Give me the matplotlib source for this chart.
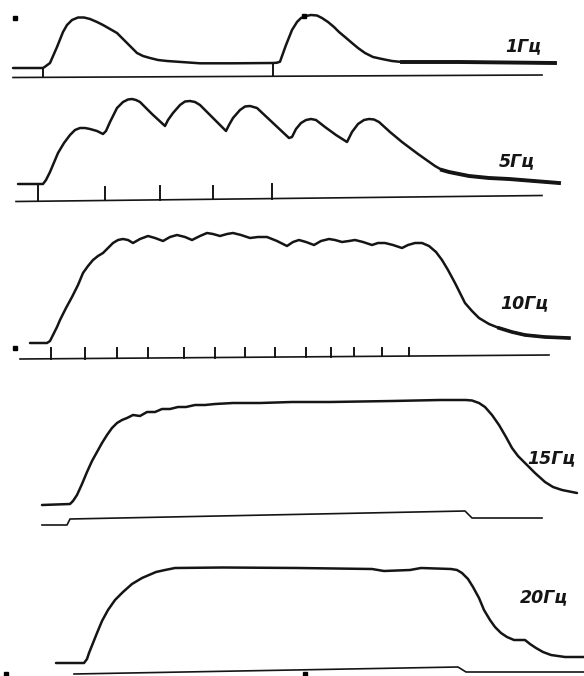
import matplotlib.pyplot as plt

# traces, in picture pixel units (x right, y down)
# 1 Hz
hz1_x = [13, 43, 45, 50, 57, 63, 67, 72, 78, 84, 90, 97, 103, 110, 117, 122, 127, 132, 137, 143,
         150, 158, 167, 200, 233, 273, 277, 280, 286, 292, 297, 301, 306, 311, 317, 322, 328, 334,
         339, 345, 352, 358, 365, 373, 382, 392, 402, 459, 555]
hz1_y = [68, 68, 66.7, 63, 47, 32, 25, 20, 17.5, 17.5, 19, 22, 25, 29, 33, 38, 43, 48, 53, 56,
         58, 60, 61, 63.3, 63.3, 63, 62.7, 61.7, 45, 30, 22, 18, 16, 15, 15.5, 18, 22, 27,
         32, 37, 43, 48, 53, 57, 59, 61, 62, 62, 63]
hz1_tail = 46
hz1_stim_x = [13, 542]
hz1_stim_y = [77.5, 75]
hz1_ticks = [43, 273]
hz1_tick_top = [68, 63]

# 5 Hz
hz5_x = [18, 43, 46, 50, 58, 64, 70, 75, 80, 85, 90, 97, 103, 106, 110, 117, 123, 128, 132, 136,
         140, 152, 165, 168, 173, 180, 185, 190, 195, 200, 213, 226, 229, 233, 240, 245, 250, 257,
         273, 289, 292, 296, 301, 306, 311, 316, 325, 336, 347, 349, 352, 358, 364, 369, 374, 379,
         390, 402, 418, 435, 442, 449, 459, 469, 489, 509, 559]
hz5_y = [184, 184, 180, 172, 153, 143, 135, 130, 128, 128, 129, 131, 134, 131, 122, 108, 102, 99.5, 99, 100,
         102, 114, 126, 120, 113, 105, 101.5, 101, 102, 105, 118, 131, 125, 118, 110, 106.5, 106, 108,
         123, 138, 137, 129, 123, 120, 119, 120, 127, 135, 142, 138, 132, 124, 120, 119, 119.5, 122,
         132, 142, 154, 166, 170, 172, 174, 176, 178, 179, 183]
hz5_tail = 60

hz5_stim_x = [16, 542]
hz5_stim_y = [201.5, 195.5]
hz5_ticks = [38, 105, 160, 213, 272]
hz5_tick_top = [184, 187, 186, 186, 184]

# 10 Hz
hz10_x = [30, 47, 50, 53, 57, 60, 66, 72, 78, 83, 88, 93, 98, 103, 108, 113, 118, 123, 128, 133,
          140, 148, 155, 163, 170, 177, 185, 192, 200, 207, 213, 220, 227, 233, 241, 250, 258, 267,
          277, 287, 293, 299, 306, 314, 321, 329, 335, 342, 349, 355, 363, 372, 378, 385, 393, 402,
          408, 415, 422, 429, 436, 442, 448, 455, 460, 465, 472, 479, 489, 499, 512, 525, 545, 569]
hz10_y = [343, 343, 341, 335, 327, 320, 308, 297, 285, 273, 266, 260, 256, 253, 248, 243, 240, 239, 240, 243,
          239, 236, 238, 241, 237, 235, 237, 240, 236, 233, 234, 236, 234, 233, 235, 238, 237, 237,
          241, 246, 242, 240, 242, 245, 241, 239, 240, 242, 241, 240, 242, 245, 243, 243, 245, 248,
          245, 243, 243, 246, 252, 260, 270, 283, 293, 303, 311, 318, 324, 328, 332, 335, 337, 338]
hz10_tail = 69
hz10_stim_x = [20, 549]
hz10_stim_y = [359, 355]
hz10_ticks = [51, 85, 117, 148, 184, 215, 245, 275, 306, 331, 354, 382, 409]
hz10_tick_top = [348] * 13

# 15 Hz
hz15_x = [42, 70, 73, 77, 82, 87, 92, 97, 102, 107, 112, 117, 122, 127, 133, 140, 147, 155, 162,
          170, 178, 186, 195, 205, 215, 233, 260, 292, 330, 392, 440, 466, 472, 479, 485, 492, 499,
          506, 512, 518, 525, 535, 545, 553, 562, 577]
hz15_y = [505, 504, 501, 495, 484, 472, 461, 452, 443, 435, 428, 423, 420, 418, 415, 416, 412, 412, 409,
          409, 407, 407, 405, 405, 404, 403, 403, 402, 402, 401, 400, 400, 400.5, 403, 407, 415, 425,
          437, 448, 456, 463, 473, 482, 487, 490, 493]
hz15_stim_x = [42, 67, 70, 465, 472, 542]
hz15_stim_y = [525, 525, 519, 511, 518, 518]

# 20 Hz
hz20_x = [56, 84, 87, 89, 93, 97, 102, 108, 115, 123, 132, 142, 149, 156, 165, 175, 223, 298, 372,
          384, 410, 421, 451, 457, 462, 468, 473, 479, 484, 490, 495, 501, 507, 514, 520, 525, 530,
          536, 543, 551, 565, 584]
hz20_y = [663, 663, 659, 653, 643, 633, 621, 610, 600, 592, 584, 578, 575, 572, 570, 568, 567.5, 568, 569,
          571, 570, 568, 569, 570, 573, 579, 587, 598, 610, 620, 627, 633, 637, 640, 640, 640, 644,
          648, 652, 655, 657, 657]
hz20_stim_x = [74, 458, 466, 584]
hz20_stim_y = [674, 667, 672, 672]

labels = ['1Гц', '5Гц', '10Гц', '15Гц', '20Гц']
label_x = [505, 499, 500, 527, 520]
label_y = [46, 161, 303, 458, 597]

marks_x = [15, 304, 15, 6, 305]
marks_y = [18, 16, 348, 674, 674]

ink = '#151515'
fig = plt.figure(figsize=(5.84, 6.76), dpi=100)
ax = fig.add_axes([0, 0, 1, 1])
ax.set_xlim(0, 584)
ax.set_ylim(676, 0)
ax.axis('off')

# muscle traces
for xs, ys in [(hz1_x, hz1_y), (hz5_x, hz5_y), (hz10_x, hz10_y), (hz15_x, hz15_y), (hz20_x, hz20_y)]:
    ax.plot(xs, ys, color=ink, lw=1.8, solid_capstyle='round', solid_joinstyle='round')

# thicker tails
ax.plot(hz1_x[hz1_tail:], hz1_y[hz1_tail:], color=ink, lw=2.8)
ax.plot(hz5_x[hz5_tail:], hz5_y[hz5_tail:], color=ink, lw=2.8)
ax.plot(hz10_x[hz10_tail:], hz10_y[hz10_tail:], color=ink, lw=2.6)

# stimulus lines
for xs, ys in [(hz1_stim_x, hz1_stim_y), (hz5_stim_x, hz5_stim_y), (hz10_stim_x, hz10_stim_y),
               (hz15_stim_x, hz15_stim_y), (hz20_stim_x, hz20_stim_y)]:
    ax.plot(xs, ys, color=ink, lw=1.2)

# stimulus ticks
for ticks, tops, sx, sy in [(hz1_ticks, hz1_tick_top, hz1_stim_x, hz1_stim_y),
                            (hz5_ticks, hz5_tick_top, hz5_stim_x, hz5_stim_y),
                            (hz10_ticks, hz10_tick_top, hz10_stim_x, hz10_stim_y)]:
    for t, top in zip(ticks, tops):
        base = sy[0] + (sy[1] - sy[0]) * (t - sx[0]) / (sx[1] - sx[0])
        ax.plot([t, t], [base, top], color=ink, lw=1.4)

ax.plot(marks_x, marks_y, 's', color='black', ms=3.5, ls='none')

for lab, x, y in zip(labels, label_x, label_y):
    ax.text(x, y, lab, ha='left', va='center', fontsize=12.5, style='italic',
            fontweight='bold', color=ink, family='DejaVu Sans')

fig.savefig('out.png', dpi=100)
